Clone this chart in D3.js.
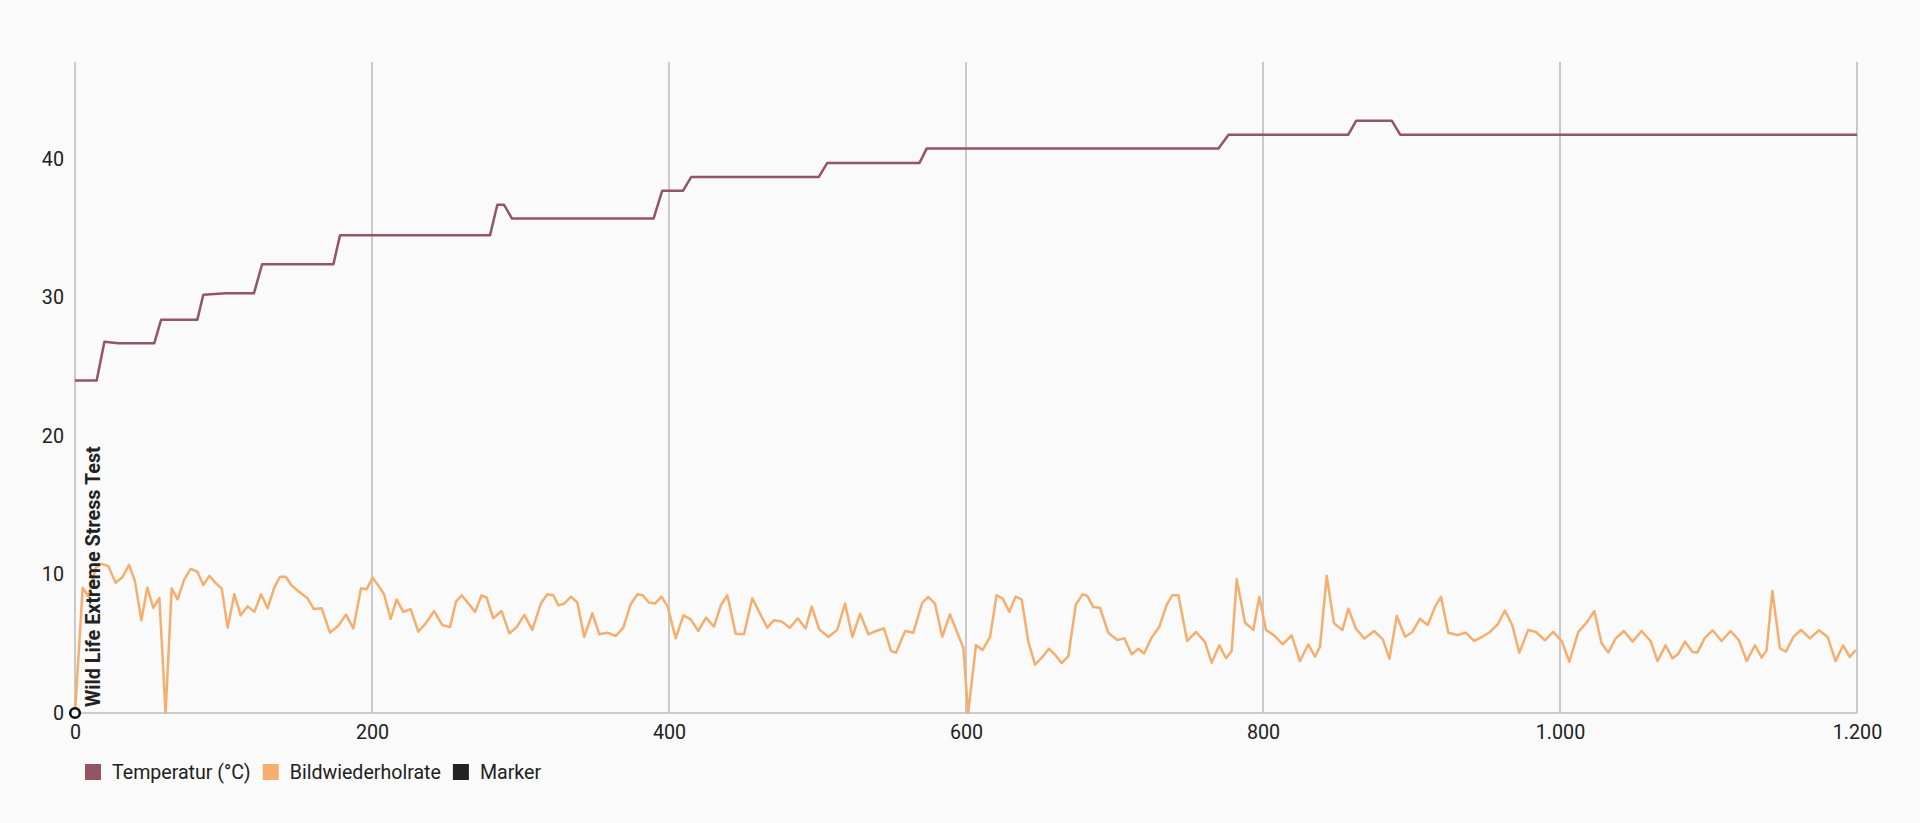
<!DOCTYPE html>
<html>
<head>
<meta charset="utf-8">
<script src="https://cdn.jsdelivr.net/npm/d3@7"></script>
<style>
  html, body { margin: 0; padding: 0; background: #fafafa; }
  svg { display: block; font-family: Roboto, "Noto Sans", sans-serif; }
</style>
</head>
<body>
<svg id="chart" width="1920" height="823"></svg>
<script>
// ---- Data ----
const xTicks = [0, 200, 400, 600, 800, 1000, 1200];
const yTicks = [0, 10, 20, 30, 40];

const tempTime = [0, 14.6, 19.8, 29, 53.4, 58, 82.4, 86.4, 101.7, 120.5, 126, 174, 178.5, 279.5, 284.4, 288.8, 294.3, 389.6, 395.4, 409.4, 415, 500.9, 506.5, 568.6, 573.5, 770, 776.8, 857.4, 862.7, 886.8, 892.4, 1200];
const tempValue = [24, 24, 26.8, 26.7, 26.7, 28.4, 28.4, 30.2, 30.3, 30.3, 32.4, 32.4, 34.5, 34.5, 36.7, 36.7, 35.7, 35.7, 37.7, 37.7, 38.7, 38.7, 39.7, 39.7, 40.75, 40.75, 41.75, 41.75, 42.75, 42.75, 41.75, 41.75];

const fpsTime = [0, 5.2, 9, 14, 18, 22.4, 27.4, 31.9, 36.4, 40.4, 44.7, 48.7, 52.7, 56.8, 61, 65.1, 69.1, 73.6, 77.9, 82.4, 86.4, 90.5, 94.5, 98.8, 102.8, 107.3, 111.6, 116.3, 120.8, 125.3, 129.7, 134.2, 138, 141.9, 145.9, 151.5, 156.5, 160.9, 166.1, 171.7, 177.3, 182.5, 187.4, 192.6, 196.4, 200.4, 204.3, 208.1, 212.6, 216.6, 221.1, 226, 231.2, 236.4, 241.8, 247.4, 252.5, 256.6, 260.4, 265.3, 269.4, 273.8, 277.2, 281.7, 287.3, 292.5, 297.4, 302.6, 307.9, 313.7, 318.1, 322.1, 325.5, 329.5, 334, 338.3, 342.9, 348.4, 353.1, 358.5, 364.1, 369.2, 374.2, 378.7, 382.3, 386.5, 390.5, 395, 399.1, 404.5, 409.7, 414.6, 419.7, 424.9, 430.3, 435, 439.3, 444.9, 450.5, 456.1, 461.2, 466.2, 470.7, 475.8, 481.4, 486.7, 492, 496.1, 501.2, 507.3, 513.3, 518.5, 523.5, 528.7, 534.3, 539.4, 544.8, 549.5, 552.9, 559, 564.5, 570.6, 574.6, 579.1, 584, 589.2, 593.7, 598.2, 601.5, 606.7, 611.2, 616.2, 620.6, 624.7, 629.2, 633.4, 637.5, 642, 646.5, 651.4, 655.9, 660, 664.4, 668.9, 673.9, 678.4, 681.7, 685.7, 690.2, 695.8, 701.9, 706.6, 711.6, 716.1, 719.9, 725, 730.2, 735.1, 738.9, 743, 749, 754.9, 760.9, 765.4, 770.6, 775.1, 778.9, 782.3, 787.9, 793.5, 797.5, 802, 807.6, 813.2, 819.3, 824.9, 830.5, 835, 838.4, 842.9, 847.8, 853.5, 857.5, 862.5, 868.3, 874.8, 880.7, 885.1, 890.1, 895.7, 900.6, 905.7, 910.9, 916.3, 919.9, 924.8, 931.1, 936.5, 942.1, 947.7, 952.8, 958, 962.9, 967.8, 972.6, 978.6, 983.8, 989.8, 995.4, 1001.1, 1006.3, 1012.3, 1017.9, 1023.1, 1028, 1032.5, 1037.4, 1043, 1048.9, 1054.9, 1061, 1065.7, 1071.1, 1075.8, 1079.7, 1084.2, 1089.3, 1092.5, 1097.6, 1102.8, 1108.8, 1114.9, 1120.5, 1125.7, 1131.3, 1135.8, 1139.1, 1143, 1148.1, 1152.2, 1157.1, 1162.3, 1168.3, 1174.4, 1180.2, 1185.6, 1190.7, 1195.2, 1199];
const fpsValue = [0, 9.05, 8.4, 10.5, 10.77, 10.6, 9.4, 9.8, 10.7, 9.5, 6.7, 9.05, 7.6, 8.3, 0, 9.0, 8.2, 9.65, 10.4, 10.2, 9.24, 9.9, 9.4, 9.0, 6.16, 8.57, 7.05, 7.7, 7.3, 8.57, 7.56, 9.05, 9.84, 9.84, 9.2, 8.7, 8.3, 7.5, 7.56, 5.8, 6.3, 7.1, 6.1, 9.0, 8.93, 9.77, 9.2, 8.57, 6.8, 8.2, 7.3, 7.5, 5.87, 6.5, 7.36, 6.35, 6.2, 8.04, 8.5, 7.85, 7.3, 8.5, 8.33, 6.84, 7.36, 5.75, 6.2, 7.08, 6.0, 7.9, 8.57, 8.5, 7.77, 7.9, 8.4, 7.97, 5.49, 7.2, 5.68, 5.8, 5.56, 6.16, 7.85, 8.57, 8.5, 7.97, 7.9, 8.4, 7.68, 5.39, 7.05, 6.76, 5.92, 6.88, 6.23, 7.8, 8.5, 5.73, 5.68, 8.28, 7.2, 6.16, 6.7, 6.6, 6.16, 6.84, 6.1, 7.68, 6.04, 5.49, 6.0, 7.9, 5.5, 7.17, 5.68, 5.92, 6.1, 4.48, 4.36, 5.92, 5.8, 7.97, 8.38, 7.9, 5.5, 7.12, 5.92, 4.7, 0, 4.9, 4.55, 5.49, 8.5, 8.26, 7.3, 8.4, 8.2, 5.13, 3.5, 4.04, 4.64, 4.2, 3.6, 4.1, 7.8, 8.57, 8.45, 7.65, 7.6, 5.8, 5.27, 5.39, 4.24, 4.64, 4.3, 5.44, 6.23, 7.8, 8.5, 8.5, 5.2, 5.85, 5.13, 3.63, 4.89, 3.95, 4.48, 9.65, 6.52, 6.0, 8.4, 6.0, 5.6, 4.96, 5.6, 3.75, 4.96, 4.07, 4.79, 9.9, 6.47, 6.0, 7.53, 6.1, 5.37, 5.92, 5.32, 3.92, 7.0, 5.5, 5.85, 6.8, 6.35, 7.77, 8.38, 5.8, 5.63, 5.8, 5.2, 5.5, 5.85, 6.4, 7.4, 6.35, 4.36, 6.0, 5.85, 5.25, 5.85, 5.2, 3.7, 5.85, 6.52, 7.36, 5.03, 4.36, 5.37, 5.92, 5.15, 5.92, 5.2, 3.75, 4.89, 3.95, 4.28, 5.15, 4.4, 4.36, 5.44, 5.97, 5.2, 5.92, 5.25, 3.75, 4.89, 4.0, 4.52, 8.8, 4.67, 4.43, 5.49, 6.0, 5.39, 5.97, 5.49, 3.75, 4.89, 4.04, 4.55];

const markerTime = [0];
const markerValue = [0];
const markerLabel = ["Wild Life Extreme Stress Test"];

const legendLabels = ["Temperatur (°C)", "Bildwiederholrate", "Marker"];
const legendColors = ["#935563", "#f5ae6e", "#222222"];

// ---- Layout ----
const W = 1920, H = 823;
const margin = { left: 75, right: 63, top: 62, bottom: 110 };
const svg = d3.select("#chart");

const x = d3.scaleLinear().domain([0, 1200]).range([margin.left, W - margin.right]);
const y = d3.scaleLinear().domain([0, 47]).range([H - margin.bottom, margin.top]);

const de = d3.formatLocale({ decimal: ",", thousands: ".", grouping: [3], currency: ["", " €"] });
const fmt = de.format(",d");

// vertical grid lines
svg.append("g").selectAll("line").data(xTicks).join("line")
  .attr("x1", d => x(d)).attr("x2", d => x(d))
  .attr("y1", y.range()[1]).attr("y2", y(0))
  .attr("stroke", "#a8a8a8").attr("stroke-width", 1.2);

// baseline
svg.append("line")
  .attr("x1", x(0)).attr("x2", x(1200))
  .attr("y1", y(0)).attr("y2", y(0))
  .attr("stroke", "#bdbdbd").attr("stroke-width", 1.5);

// x axis labels
const xAxis = d3.axisBottom(x).tickValues(xTicks).tickFormat(fmt).tickSize(0).tickPadding(12);
const gx = svg.append("g").attr("transform", `translate(0,${y(0)})`).call(xAxis);
gx.select(".domain").remove();
gx.selectAll("text").attr("font-size", 19.7).attr("fill", "#212121").attr("font-family", "Roboto");

// y axis labels
const yAxis = d3.axisLeft(y).tickValues(yTicks).tickFormat(fmt).tickSize(0).tickPadding(11);
const gy = svg.append("g").attr("transform", `translate(${x(0)},0)`).call(yAxis);
gy.select(".domain").remove();
gy.selectAll("text").attr("font-size", 19.7).attr("fill", "#212121").attr("font-family", "Roboto");

// series lines
const line = d3.line().x(d => x(d[0])).y(d => y(d[1]));
const fpsData = fpsTime.map((t, i) => [t, fpsValue[i]]);
const tempData = tempTime.map((t, i) => [t, tempValue[i]]);

svg.append("path").datum(fpsData)
  .attr("d", line).attr("fill", "none")
  .attr("stroke", legendColors[1]).attr("stroke-width", 2.5).attr("stroke-linejoin", "round");

svg.append("path").datum(tempData)
  .attr("d", line).attr("fill", "none")
  .attr("stroke", legendColors[0]).attr("stroke-width", 2.5).attr("stroke-linejoin", "round");

// marker
markerTime.forEach((t, i) => {
  svg.append("text")
    .attr("transform", `translate(${x(t) + 25},${y(markerValue[i]) - 6}) rotate(-90)`)
    .attr("font-size", 19.8).attr("font-weight", "bold").attr("fill", "#222")
    .attr("font-family", "Roboto")
    .text(markerLabel[i]);
  svg.append("circle")
    .attr("cx", x(t)).attr("cy", y(markerValue[i])).attr("r", 4.8)
    .attr("fill", "#fafafa").attr("stroke", "#111").attr("stroke-width", 2.6);
});

// legend
const legend = svg.append("g").attr("transform", "translate(85,764)");
let lx = 0;
legendLabels.forEach((lab, i) => {
  const g = legend.append("g").attr("transform", `translate(${lx},0)`);
  g.append("rect").attr("width", 16).attr("height", 16).attr("fill", legendColors[i]);
  const t = g.append("text").attr("x", 27).attr("y", 8).attr("dy", "0.35em")
    .attr("font-size", 19.6).attr("fill", "#212121").attr("font-family", "Roboto").text(lab);
  lx += 27 + t.node().getComputedTextLength() + 12;
});
</script>
</body>
</html>
